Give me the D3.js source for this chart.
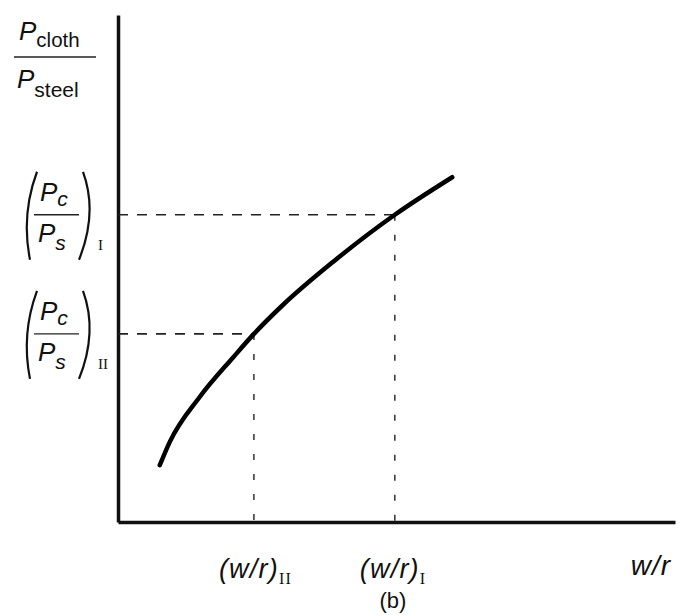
<!DOCTYPE html>
<html>
<head>
<meta charset="utf-8">
<script src="https://d3js.org/d3.v7.min.js"></script>
<style>
  body { margin: 0; background: #fff; }
  text { font-family: "Liberation Sans", Arial, sans-serif; fill: #111; }
  .it { font-style: italic; }
  .rm { font-family: "Liberation Serif", serif; }
</style>
</head>
<body>
<div id="chart"></div>
<script>
// curve (arbitrary units, 0-10 on both axes)
var curveX = [0.75, 0.93, 1.47, 2.07, 2.44, 2.96, 3.86, 4.97, 6.00];
var curveY = [1.12, 1.58, 2.47, 3.25, 3.71, 4.28, 5.13, 6.06, 6.80];

// the two marked points: I and II
var refNames = ["I", "II"];
var refX = [4.97, 2.44];
var refY = [6.06, 3.71];

var width = 679, height = 615;

var svg = d3.select("#chart").append("svg")
    .attr("width", width)
    .attr("height", height);

var x = d3.scaleLinear().domain([0, 10]).range([118, 675]);
var y = d3.scaleLinear().domain([0, 10]).range([522, 15]);

// axes, no ticks
svg.append("g").attr("transform", "translate(0," + y(0) + ")")
    .call(d3.axisBottom(x).tickValues([]).tickSizeOuter(0));
svg.append("g").attr("transform", "translate(" + x(0) + ",0)")
    .call(d3.axisLeft(y).tickValues([]).tickSizeOuter(0));
svg.selectAll(".domain")
    .attr("stroke", "#111")
    .attr("stroke-width", 3.5);

// dashed guide lines
refX.forEach(function (d, i) {
    svg.append("line")
        .attr("x1", x(0)).attr("x2", x(d))
        .attr("y1", y(refY[i])).attr("y2", y(refY[i]))
        .attr("stroke", "#222").attr("stroke-width", 1.6)
        .attr("stroke-dasharray", "10,9");
    svg.append("line")
        .attr("x1", x(d)).attr("x2", x(d))
        .attr("y1", y(refY[i])).attr("y2", y(0))
        .attr("stroke", "#222").attr("stroke-width", 1.4)
        .attr("stroke-dasharray", "6,14");
});

// the curve
var pts = curveX.map(function (d, i) { return [d, curveY[i]]; });
var line = d3.line()
    .x(function (d) { return x(d[0]); })
    .y(function (d) { return y(d[1]); })
    .curve(d3.curveMonotoneX);
svg.append("path")
    .datum(pts)
    .attr("d", line)
    .attr("fill", "none")
    .attr("stroke", "#000")
    .attr("stroke-width", 4.5)
    .attr("stroke-linecap", "round");

// y axis title: P_cloth / P_steel
var yt = svg.append("g");
var t1 = yt.append("text").attr("x", 19).attr("y", 40).attr("font-size", 26);
t1.append("tspan").attr("class", "it").text("P");
t1.append("tspan").attr("font-size", 20.5).attr("dy", 7).text("cloth");
yt.append("line").attr("x1", 14).attr("x2", 96).attr("y1", 57).attr("y2", 57)
    .attr("stroke", "#222").attr("stroke-width", 1.3);
var t2 = yt.append("text").attr("x", 17).attr("y", 88).attr("font-size", 26);
t2.append("tspan").attr("class", "it").text("P");
t2.append("tspan").attr("font-size", 21).attr("dy", 9).text("steel");

// (Pc/Ps) labels at the reference levels
refY.forEach(function (d, i) {
    var cy = y(d);
    var g = svg.append("g");
    // parentheses
    g.append("path")
        .attr("d", "M" + 37 + "," + (cy - 43) + " Q" + 21 + "," + (cy) + " " + 30 + "," + (cy + 45))
        .attr("fill", "none").attr("stroke", "#111").attr("stroke-width", 2.2);
    g.append("path")
        .attr("d", "M" + 83 + "," + (cy - 43) + " Q" + 98 + "," + (cy - 2) + " " + 79 + "," + (cy + 45))
        .attr("fill", "none").attr("stroke", "#111").attr("stroke-width", 2.2);
    var a = g.append("text").attr("x", 40).attr("y", cy - 14).attr("font-size", 26);
    a.append("tspan").attr("class", "it").text("P");
    a.append("tspan").attr("class", "it").attr("font-size", 21).attr("dy", 5).text("c");
    g.append("line").attr("x1", 34).attr("x2", 79).attr("y1", cy).attr("y2", cy)
        .attr("stroke", "#222").attr("stroke-width", 1.3);
    var b = g.append("text").attr("x", 38).attr("y", cy + 27).attr("font-size", 26);
    b.append("tspan").attr("class", "it").text("P");
    b.append("tspan").attr("class", "it").attr("font-size", 21).attr("dy", 8).text("s");
    g.append("text").attr("class", "rm").attr("x", 98).attr("y", cy + 35)
        .attr("font-size", 15).text(refNames[i]);
});

// x labels (w/r)_I, (w/r)_II
refX.forEach(function (d, i) {
    var t = svg.append("text").attr("x", x(d) - 35).attr("y", 578)
        .attr("font-size", 27).attr("letter-spacing", 1.2);
    t.append("tspan").attr("class", "it").text("(w/r)");
    t.append("tspan").attr("class", "rm").attr("font-size", 16).attr("dy", 6).text(refNames[i]);
});
svg.append("text").attr("class", "it").attr("x", 671).attr("y", 575)
    .attr("font-size", 28).attr("letter-spacing", 1).attr("text-anchor", "end").text("w/r");
svg.append("text").attr("x", 393).attr("y", 608)
    .attr("font-size", 22).attr("text-anchor", "middle").text("(b)");
</script>
</body>
</html>
